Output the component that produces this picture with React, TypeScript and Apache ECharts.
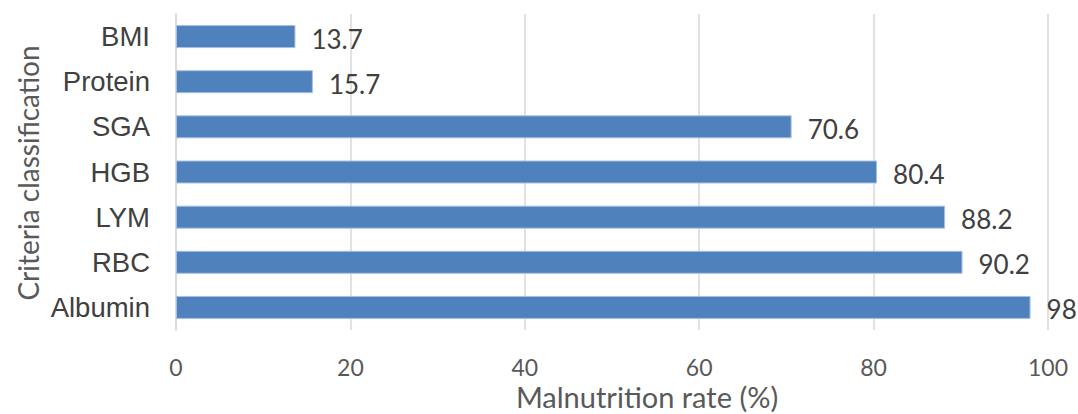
import React, { useEffect, useRef } from "react";
import * as echarts from "echarts";

const categories = ["BMI", "Protein", "SGA", "HGB", "LYM", "RBC", "Albumin"];
const values = [13.7, 15.7, 70.6, 80.4, 88.2, 90.2, 98];
const xTitle = "Malnutrition rate (%)";
const yTitle = "Criteria classification";

export default function App() {
  const ref = useRef<HTMLDivElement>(null);
  useEffect(() => {
    const chart = echarts.init(ref.current!, null, { renderer: "svg" });
    chart.setOption({
      animation: false,
      grid: { left: 176, right: 30, top: 14, bottom: 84, containLabel: false },
      xAxis: {
        type: "value",
        min: 0,
        max: 100,
        interval: 20,
        axisLine: { show: false },
        axisTick: { show: false },
        splitLine: { lineStyle: { color: "#d9d9d9", width: 1.5 } },
        axisLabel: { fontFamily: "Lato", fontSize: 23, color: "#595959", margin: 25 },
      },
      yAxis: {
        type: "category",
        data: categories,
        inverse: true,
        axisLine: { show: true, lineStyle: { color: "#d9d9d9", width: 1.5 } },
        axisTick: { show: false },
        axisLabel: { fontFamily: "Liberation Sans", fontSize: 27.5, color: "#404040", margin: 26 },
      },
      graphic: [
        {
          type: "text",
          x: 647,
          y: 396,
          style: {
            text: xTitle,
            font: "29px Lato",
            fill: "#595959",
            textAlign: "center",
            textVerticalAlign: "middle",
          },
        },
        {
          type: "text",
          x: 28,
          y: 173,
          rotation: Math.PI / 2,
          style: {
            text: yTitle,
            font: "28px Lato",
            fill: "#595959",
            textAlign: "center",
            textVerticalAlign: "middle",
          },
        },
      ],
      series: [
        {
          type: "bar",
          data: values,
          barWidth: 23,
          itemStyle: { color: "#4f81bd", borderColor: "#a7c0e0", borderWidth: 1 },
          label: {
            show: true,
            position: "right",
            distance: 16,
            offset: [0, 2],
            fontFamily: "Lato",
            fontSize: 26,
            color: "#404040",
          },
        },
      ],
    });
    return () => chart.dispose();
  }, []);
  return (
    <div
      ref={ref}
      style={{ position: "fixed", left: 0, top: 0, width: 1078, height: 414, background: "#fff" }}
    />
  );
}
